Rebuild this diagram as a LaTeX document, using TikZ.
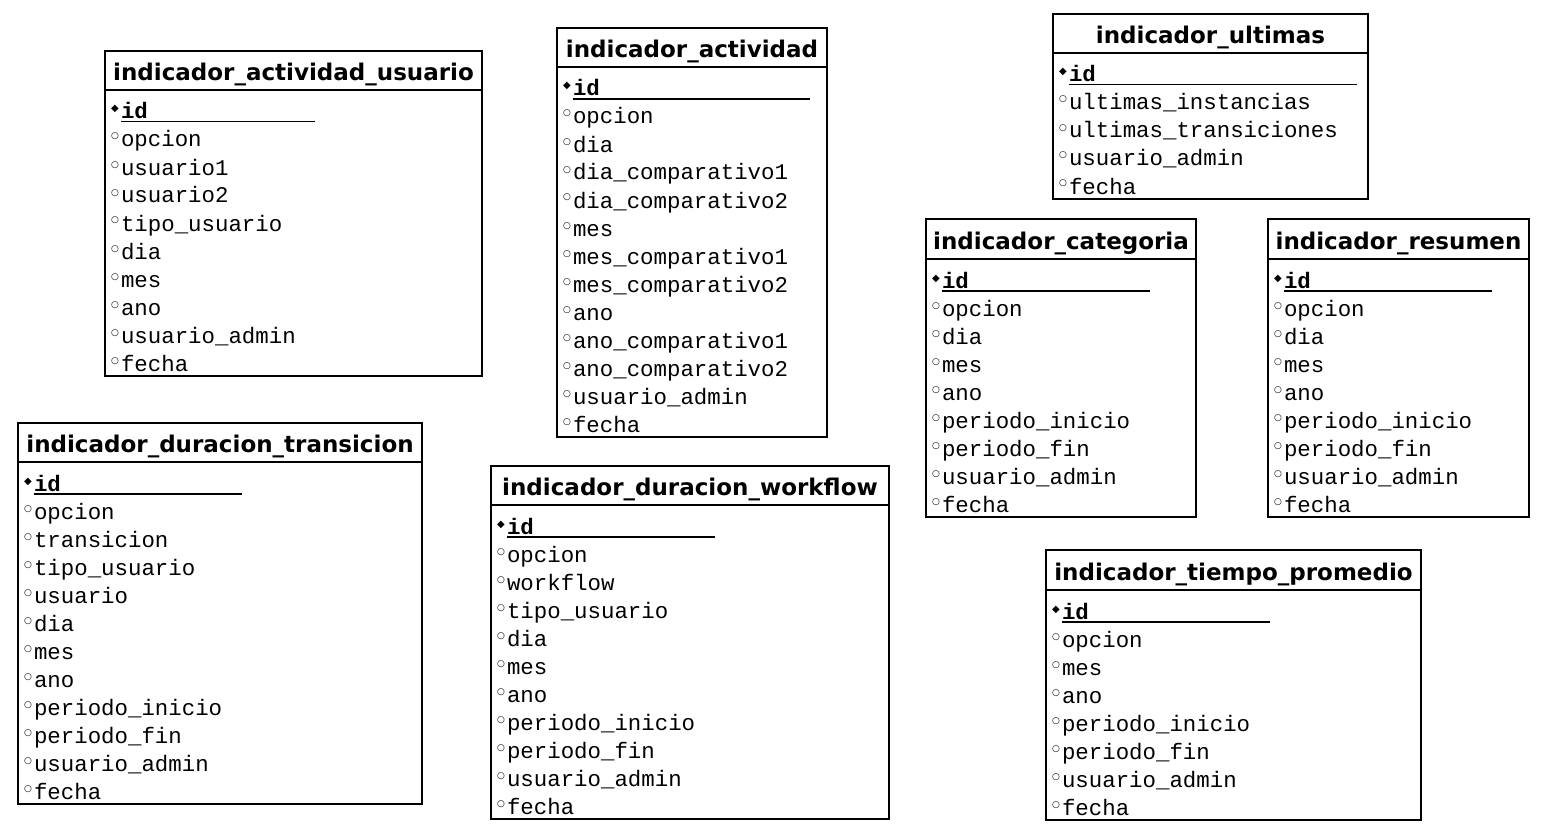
\documentclass[tikz,border=0pt]{standalone}
\usepackage{fontspec}
\setmainfont{DejaVu Sans}
\setmonofont{Liberation Mono}
\newfontfamily\simbolos{DejaVu Sans}
\usetikzlibrary{positioning}
\tikzset{tabla node/.style={shape=rectangle,
    draw, line width=2.2pt, outer sep=0pt, inner sep=0pt,
    minimum height=39pt, text height=22pt, text depth=2pt,
    font=\bfseries\fontsize{23}{26}\selectfont},
  campos node/.style={shape=rectangle,
    draw, line width=2.2pt, outer sep=0pt, inner xsep=6pt, inner ysep=3pt,
    align=left, font=\ttfamily\fontsize{22.4}{28}\selectfont}}
\newcommand{\fila}{\rule[-2pt]{0pt}{28pt}}
\newcommand{\clave}[1]{\makebox[10pt][l]{\raisebox{7pt}{\simbolos\fontsize{10}{10}\selectfont ◆}}\rlap{\smash{\rule[-3.5pt]{#1}{1.6pt}}}\smash{\textbf{id}}\fila}
\newcommand{\campo}[1]{\makebox[10pt][l]{\raisebox{8pt}{\simbolos\fontsize{9}{9}\selectfont ○}}\smash{#1}\fila}

\begin{document}
\begin{tikzpicture}[x=1pt,y=-1pt]
    \useasboundingbox (0,0) rectangle (1554,832);

    \node[tabla node, minimum width=377pt, anchor=north west] (1) at (105,51) {indicador\_actividad\_usuario};
    \node[campos node, text width=365pt] (11) [below = 0pt of 1] {\clave{194pt}\\ \campo{opcion}\\ \campo{usuario1}\\ \campo{usuario2}\\ \campo{tipo\_usuario}\\ \campo{dia}\\ \campo{mes}\\ \campo{ano}\\ \campo{usuario\_admin}\\ \campo{fecha}};

    \node[tabla node, minimum width=270pt, anchor=north west] (2) at (557,28) {indicador\_actividad};
    \node[campos node, text width=258pt] (12) [below = 0pt of 2] {\clave{237pt}\\ \campo{opcion}\\ \campo{dia}\\ \campo{dia\_comparativo1}\\ \campo{dia\_comparativo2}\\ \campo{mes}\\ \campo{mes\_comparativo1}\\ \campo{mes\_comparativo2}\\ \campo{ano}\\ \campo{ano\_comparativo1}\\ \campo{ano\_comparativo2}\\ \campo{usuario\_admin}\\ \campo{fecha}};

    \node[tabla node, minimum width=315pt, anchor=north west] (3) at (1053,14) {indicador\_ultimas};
    \node[campos node, text width=303pt] (13) [below = 0pt of 3] {\clave{288pt}\\ \campo{ultimas\_instancias}\\ \campo{ultimas\_transiciones}\\ \campo{usuario\_admin}\\ \campo{fecha}};

    \node[tabla node, minimum width=270pt, minimum height=40pt, anchor=north west] (4) at (926,219) {indicador\_categoria};
    \node[campos node, text width=258pt] (14) [below = 0pt of 4] {\clave{208pt}\\ \campo{opcion}\\ \campo{dia}\\ \campo{mes}\\ \campo{ano}\\ \campo{periodo\_inicio}\\ \campo{periodo\_fin}\\ \campo{usuario\_admin}\\ \campo{fecha}};

    \node[tabla node, minimum width=261pt, minimum height=40pt, anchor=north west] (5) at (1268,219) {indicador\_resumen};
    \node[campos node, text width=249pt] (15) [below = 0pt of 5] {\clave{208pt}\\ \campo{opcion}\\ \campo{dia}\\ \campo{mes}\\ \campo{ano}\\ \campo{periodo\_inicio}\\ \campo{periodo\_fin}\\ \campo{usuario\_admin}\\ \campo{fecha}};

    \node[tabla node, minimum width=404pt, anchor=north west] (6) at (18,423) {indicador\_duracion\_transicion};
    \node[campos node, text width=392pt] (16) [below = 0pt of 6] {\clave{208pt}\\ \campo{opcion}\\ \campo{transicion}\\ \campo{tipo\_usuario}\\ \campo{usuario}\\ \campo{dia}\\ \campo{mes}\\ \campo{ano}\\ \campo{periodo\_inicio}\\ \campo{periodo\_fin}\\ \campo{usuario\_admin}\\ \campo{fecha}};

    \node[tabla node, minimum width=398pt, anchor=north west] (7) at (491,466) {indicador\_duracion\_workflow};
    \node[campos node, text width=386pt] (17) [below = 0pt of 7] {\clave{208pt}\\ \campo{opcion}\\ \campo{workflow}\\ \campo{tipo\_usuario}\\ \campo{dia}\\ \campo{mes}\\ \campo{ano}\\ \campo{periodo\_inicio}\\ \campo{periodo\_fin}\\ \campo{usuario\_admin}\\ \campo{fecha}};

    \node[tabla node, minimum width=375pt, minimum height=40pt, anchor=north west] (8) at (1046,550) {indicador\_tiempo\_promedio};
    \node[campos node, text width=363pt] (18) [below = 0pt of 8] {\clave{208pt}\\ \campo{opcion}\\ \campo{mes}\\ \campo{ano}\\ \campo{periodo\_inicio}\\ \campo{periodo\_fin}\\ \campo{usuario\_admin}\\ \campo{fecha}};
\end{tikzpicture}
\end{document}
